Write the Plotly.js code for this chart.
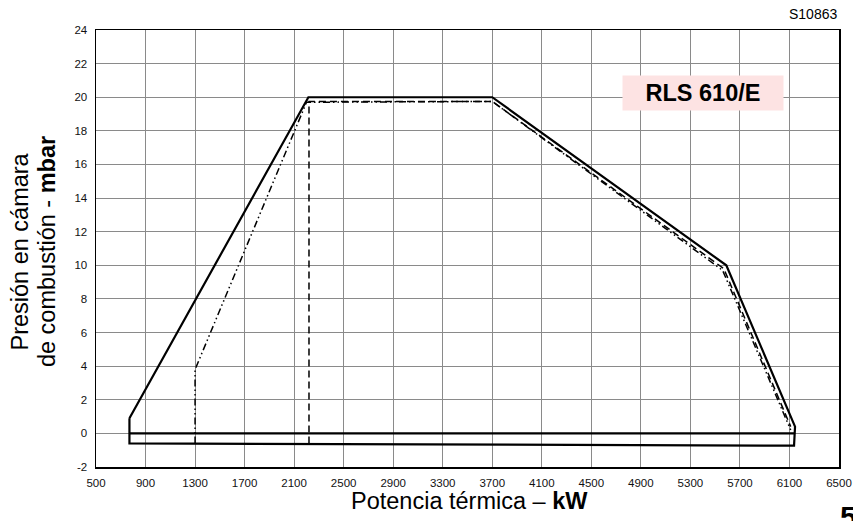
<!DOCTYPE html>
<html>
<head>
<meta charset="utf-8">
<script src="https://cdn.plot.ly/plotly-3.0.1.min.js"></script>
<style>html,body{margin:0;padding:0;background:#fff;}#chart{width:853px;height:521px;}</style>
</head>
<body>
<div id="chart"></div>
<script>
// Solid working field outline
const solidX = [770, 2215, 3700, 5590, 6145, 6137, 770, 770];
const solidY = [0.9, 20, 20, 10, 0.4, -0.73, -0.6, 0.9];
// Thick reference line at 0 mbar
const zeroX = [770, 6145];
const zeroY = [0, 0];
// Dashed curve
const dashX = [2220, 2220, 3700, 5570, 6110];
const dashY = [-0.6, 19.75, 19.75, 9.8, 0.4];
// Dash-dot-dot curve
const dotX = [1300, 1300, 2200, 3700, 5560, 6110];
const dotY = [-0.6, 3.8, 19.7, 19.75, 9.7, 0.2];
// Axis ticks
const xTicks = [500, 900, 1300, 1700, 2100, 2500, 2900, 3300, 3700, 4100, 4500, 4900, 5300, 5700, 6100, 6500];
const yTicks = [-2, 0, 2, 4, 6, 8, 10, 12, 14, 16, 18, 20, 22, 24];

const font = 'Arial, "Liberation Sans", sans-serif';

const traces = [
  {x: dashX, y: dashY, mode: 'lines', line: {color: '#000', width: 1.5, dash: '7px,4px'}, hoverinfo: 'skip'},
  {x: dotX, y: dotY, mode: 'lines', line: {color: '#000', width: 1.5, dash: '7px,3px,1.5px,3px,1.5px,3px'}, hoverinfo: 'skip'},
  {x: zeroX, y: zeroY, mode: 'lines', line: {color: '#000', width: 2.2}, hoverinfo: 'skip'},
  {x: solidX, y: solidY, mode: 'lines', line: {color: '#000', width: 2.2}, hoverinfo: 'skip'}
];

const layout = {
  width: 853, height: 521,
  margin: {l: 95.5, r: 13.5, t: 30, b: 53.5},
  paper_bgcolor: '#fff', plot_bgcolor: '#fff',
  showlegend: false,
  font: {family: font, color: '#000'},
  xaxis: {
    range: [500, 6500], tickvals: xTicks, ticktext: xTicks.map(String),
    showgrid: true, gridcolor: '#8a8a8a', gridwidth: 1,
    zeroline: false, showline: true, linecolor: '#000', linewidth: 1.5, mirror: true,
    ticks: 'outside', ticklen: 5, tickcolor: 'rgba(0,0,0,0)',
    tickfont: {size: 11.5, family: font, color: '#111'}
  },
  yaxis: {
    range: [-2, 24], tickvals: yTicks, ticktext: yTicks.map(String),
    showgrid: true, gridcolor: '#8a8a8a', gridwidth: 1,
    zeroline: false, showline: true, linecolor: '#000', linewidth: 1.5, mirror: true,
    ticks: 'outside', ticklen: 5, tickcolor: 'rgba(0,0,0,0)',
    tickfont: {size: 11.5, family: font, color: '#111'}
  },
  annotations: [
    {xref: 'paper', yref: 'paper', x: -0.1026, y: 0.4925, xanchor: 'center', yanchor: 'middle',
     textangle: -90, showarrow: false, text: 'Presión en cámara',
     font: {size: 23.5, family: font, color: '#000'}},
    {xref: 'paper', yref: 'paper', x: -0.0669, y: 0.4925, xanchor: 'center', yanchor: 'middle',
     textangle: -90, showarrow: false, text: 'de combustión - <b>mbar</b>',
     font: {size: 23.5, family: font, color: '#000'}},
    {xref: 'paper', yref: 'paper', x: 0.5024, y: -0.0783, xanchor: 'center', yanchor: 'middle',
     showarrow: false, text: 'Potencia térmica – <b>kW</b>',
     font: {size: 23.5, family: font, color: '#000'}},
    {xref: 'paper', yref: 'paper', x: 1.0, y: 1.0, xanchor: 'right', yanchor: 'bottom', yshift: 6,
     showarrow: false, text: 'S10863', font: {size: 14, family: font, color: '#000'}},
    {xref: 'paper', yref: 'paper', x: 0.817, y: 0.8555, xanchor: 'center', yanchor: 'middle',
     showarrow: false, text: '<b>RLS 610/E</b>', bgcolor: '#fde3e3', borderpad: 0,
     width: 160, height: 34, font: {size: 23.5, family: font, color: '#000'}},
    {xref: 'paper', yref: 'paper', x: 0.998, y: -0.072, xanchor: 'left', yanchor: 'top',
     showarrow: false, text: '<b>5</b>', font: {size: 30, family: font, color: '#000'}}
  ]
};

Plotly.newPlot('chart', traces, layout, {displayModeBar: false, staticPlot: true});
</script>
</body>
</html>
